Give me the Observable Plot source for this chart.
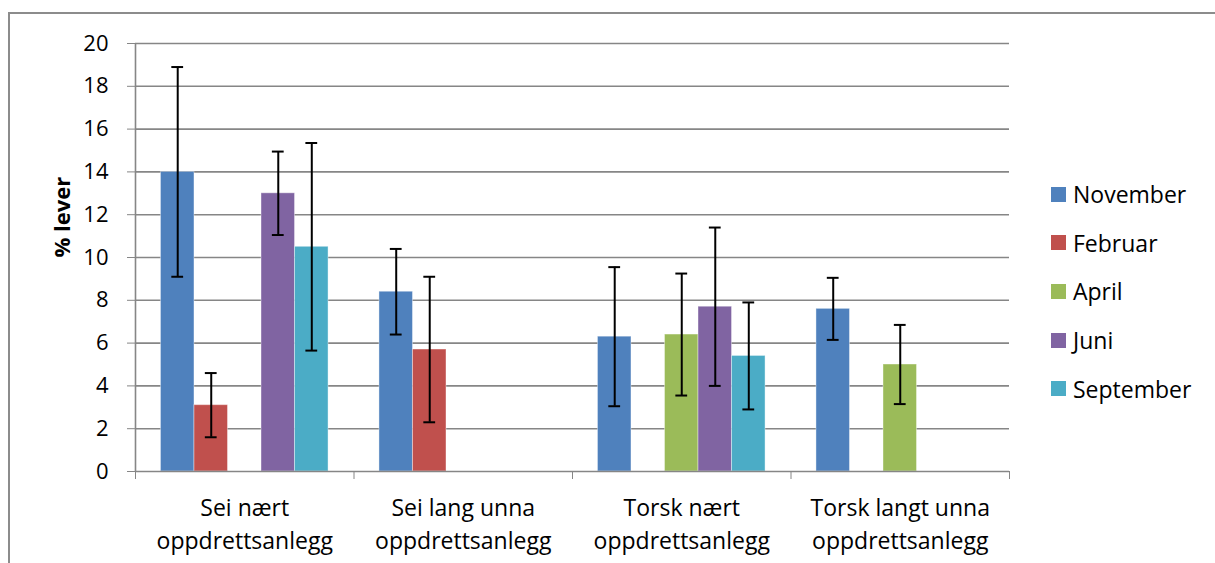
<!DOCTYPE html>
<html>
<head>
<meta charset="utf-8">
<script src="https://cdn.jsdelivr.net/npm/d3@7"></script>
<script src="https://cdn.jsdelivr.net/npm/@observablehq/plot@0.6"></script>
<style>
  html, body { margin: 0; padding: 0; background: #fff; overflow: hidden; }
  #wrap { position: relative; width: 1215px; height: 563px; font-family: "Open Sans", sans-serif; }
  #border { position: absolute; left: 8px; top: 12px; width: 1400px; height: 700px; border: 2px solid #8c8c8c; box-sizing: border-box; pointer-events: none; }
  #chart { position: absolute; left: 0; top: 0; }
  #legend { position: absolute; left: 1051px; top: 170px; font-family: "Open Sans", sans-serif; font-size: 23px; color: #000; }
  .item { display: flex; align-items: center; height: 48.6px; }
  .sw { width: 15px; height: 15px; margin-right: 7px; }
  svg g[aria-label$="axis tick"] { color: #868686; }
  svg g[aria-label="y-axis"] .tick line, svg g[aria-label="x-axis"] .tick line { stroke: #868686; }
  svg g[aria-label="x-axis"] .domain, svg g[aria-label="y-axis"] .domain { display: none; }
</style>
</head>
<body>
<div id="wrap">
  <div id="chart"></div>
  <div id="legend"></div>
  <div id="border"></div>
</div>
<script>
// ---- data ----
const groups = [
  "Sei nært\noppdrettsanlegg",
  "Sei lang unna\noppdrettsanlegg",
  "Torsk nært\noppdrettsanlegg",
  "Torsk langt unna\noppdrettsanlegg"
];
const series = ["November", "Februar", "April", "Juni", "September"];
const colors = ["#4F81BD", "#C0504D", "#9BBB59", "#8064A2", "#4BACC6"];

const november    = [14.0, 8.4, 6.3, 7.6];
const novemberErr = [4.9, 2.0, 3.25, 1.45];
const februar     = [3.1, 5.7, null, null];
const februarErr  = [1.5, 3.4, null, null];
const april       = [null, null, 6.4, 5.0];
const aprilErr    = [null, null, 2.85, 1.85];
const juni        = [13.0, null, 7.7, null];
const juniErr     = [1.95, null, 3.7, null];
const september   = [10.5, null, 5.4, null];
const septemberErr= [4.85, null, 2.5, null];

const yTicks = [0, 2, 4, 6, 8, 10, 12, 14, 16, 18, 20];
const yLabel = "% lever";

// ---- build table ----
const values = [november, februar, april, juni, september];
const errs = [novemberErr, februarErr, aprilErr, juniErr, septemberErr];
const barW = 0.1534;
const barOff = (1 - series.length * barW) / 2;
const rows = [];
series.forEach((s, si) => {
  groups.forEach((g, gi) => {
    const v = values[si][gi];
    if (v == null) return;
    const e = errs[si][gi];
    const x1 = gi + barOff + si * barW;
    rows.push({group: g, series: s, value: v, lo: v - e, hi: v + e, x1, x2: x1 + barW, xc: x1 + barW / 2});
  });
});
const capHalf = 0.027;
const boundaries = d3.range(groups.length + 1);

const chart = Plot.plot({
  width: 1215,
  height: 563,
  marginLeft: 135,
  marginRight: 206,
  marginTop: 43,
  marginBottom: 92,
  style: {fontFamily: "Open Sans, sans-serif", fontSize: "22px", color: "#000", background: "transparent", overflow: "visible"},
  x: {type: "linear", domain: [0, groups.length], ticks: boundaries, tickFormat: () => "", tickSize: 8, label: null},
  y: {domain: [0, 20], ticks: yTicks, tickSize: 8, tickPadding: 19, label: null},
  marks: [
    Plot.ruleY(yTicks.filter(d => d > 0), {stroke: "#868686", strokeWidth: 1.6}),
    Plot.rectY(rows, {x1: "x1", x2: "x2", y1: 0, y2: "value", fill: d => colors[series.indexOf(d.series)], stroke: "#ffffff", strokeOpacity: 0.4, strokeWidth: 1}),
    Plot.ruleX(rows, {x: "xc", y1: "lo", y2: "hi", stroke: "#000", strokeWidth: 2}),
    Plot.ruleY(rows, {y: "lo", x1: d => d.xc - capHalf, x2: d => d.xc + capHalf, stroke: "#000", strokeWidth: 2}),
    Plot.ruleY(rows, {y: "hi", x1: d => d.xc - capHalf, x2: d => d.xc + capHalf, stroke: "#000", strokeWidth: 2}),
    Plot.ruleX([0], {y1: 0, y2: 20, stroke: "#868686", strokeWidth: 1.6}),
    Plot.ruleY([0], {stroke: "#868686", strokeWidth: 1.6}),
    Plot.text(groups, {x: (d, i) => i + 0.5, y: 0, text: d => d, lineAnchor: "top", dy: 21, fontSize: 23, lineHeight: 1.43, fill: "#000"}),
    Plot.text([yLabel], {frameAnchor: "left", dx: -73, rotate: -90, text: d => d, fontSize: 22, fontWeight: "bold", fill: "#000"})
  ]
});
document.getElementById("chart").appendChild(chart);

const legend = document.getElementById("legend");
series.forEach((s, i) => {
  const item = document.createElement("div");
  item.className = "item";
  const sw = document.createElement("div");
  sw.className = "sw";
  sw.style.background = colors[i];
  const lab = document.createElement("span");
  lab.textContent = s;
  item.appendChild(sw);
  item.appendChild(lab);
  legend.appendChild(item);
});
</script>
</body>
</html>
